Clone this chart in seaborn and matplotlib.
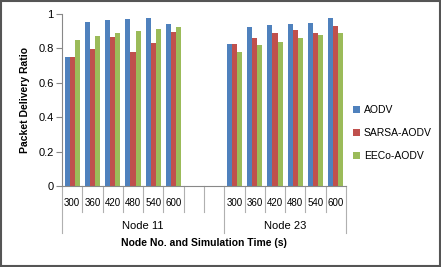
import matplotlib
matplotlib.use('Agg')
import matplotlib.pyplot as plt
import matplotlib.transforms as mtransforms
from matplotlib.patches import Rectangle
import seaborn as sns
import pandas as pd

# Data
nodes = ['Node 11', 'Node 23']
times = ['300', '360', '420', '480', '540', '600']
protocols = ['AODV', 'SARSA-AODV', 'EECo-AODV']
aodv_11 = [0.752, 0.955, 0.965, 0.969, 0.975, 0.942]
sarsa_11 = [0.750, 0.797, 0.868, 0.781, 0.830, 0.894]
eeco_11 = [0.849, 0.874, 0.891, 0.903, 0.911, 0.923]
aodv_23 = [0.824, 0.926, 0.936, 0.942, 0.950, 0.979]
sarsa_23 = [0.824, 0.862, 0.888, 0.905, 0.891, 0.932]
eeco_23 = [0.777, 0.818, 0.839, 0.862, 0.878, 0.891]
colors = ['#4F81BD', '#C0504D', '#9BBB59']

series = {
    'Node 11': [aodv_11, sarsa_11, eeco_11],
    'Node 23': [aodv_23, sarsa_23, eeco_23],
}
rows = []
for node in nodes:
    for p, vals in zip(protocols, series[node]):
        for t, v in zip(times, vals):
            rows.append({'slot': node + ' ' + t, 'protocol': p, 'pdr': v})
df = pd.DataFrame(rows)

# two blank slots between the node groups, as in the original
order = ['Node 11 ' + t for t in times] + ['blank1', 'blank2'] + ['Node 23 ' + t for t in times]
tick_labels = times + ['', ''] + times

plt.rcParams['font.family'] = ['Liberation Sans', 'DejaVu Sans']

fig = plt.figure(figsize=(4.41, 2.67), dpi=100)
ax = fig.add_axes([62 / 441, 1 - 186 / 267, 284 / 441, 172 / 267])

sns.barplot(data=df, x='slot', y='pdr', hue='protocol', order=order,
            hue_order=protocols, palette=colors, width=0.75, saturation=1,
            edgecolor='none', linewidth=0, ax=ax)

ax.set_xlim(-0.5, len(order) - 0.5)
ax.set_ylim(0, 1)
ax.set_yticks([0, 0.2, 0.4, 0.6, 0.8, 1])
ax.set_yticklabels(['0', '0.2', '0.4', '0.6', '0.8', '1'], fontsize=8)
ax.tick_params(axis='y', length=4, color='#888888', pad=2)
ax.set_xticks(range(len(order)))
ax.set_xticklabels(tick_labels, fontsize=7)
ax.tick_params(axis='x', length=0, pad=9)

for s in ['top', 'right']:
    ax.spines[s].set_visible(False)
for s in ['left', 'bottom']:
    ax.spines[s].set_color('#888888')
    ax.spines[s].set_linewidth(0.8)

# category separators below the axis
trans = mtransforms.blended_transform_factory(ax.transData, ax.transAxes)
for i in range(len(order) + 1):
    x = i - 0.5
    long_line = i in (0, 8, len(order))
    y_end = -47 / 172 if long_line else -26 / 172
    ax.plot([x, x], [0, y_end], transform=trans, color='#B0B0B0',
            lw=0.8, clip_on=False)

# group labels
ax.text(3.5, -40 / 172, 'Node 11', transform=trans, ha='center', va='center', fontsize=8)
ax.text(10.5, -40 / 172, 'Node 23', transform=trans, ha='center', va='center', fontsize=8)

ax.set_xlabel('')
fig.text(204 / 441, 1 - 243 / 267, 'Node No. and Simulation Time (s)',
         ha='center', va='center', fontsize=7.5, fontweight='bold')
ax.set_ylabel('Packet Delivery Ratio', fontsize=7.5, fontweight='bold', labelpad=6)

leg = ax.legend(loc='center left', bbox_to_anchor=(346 / 441, 1 - 133 / 267),
                bbox_transform=fig.transFigure, frameon=False, fontsize=7.5,
                handlelength=0.6, handleheight=0.6, handletextpad=0.4,
                labelspacing=1.25, borderaxespad=0.3)

fig.patches.append(Rectangle((0.002, 0.003), 0.996, 0.994, transform=fig.transFigure,
                             fill=False, edgecolor='#555555', linewidth=1.5))

fig.savefig('out.png', dpi=100)
